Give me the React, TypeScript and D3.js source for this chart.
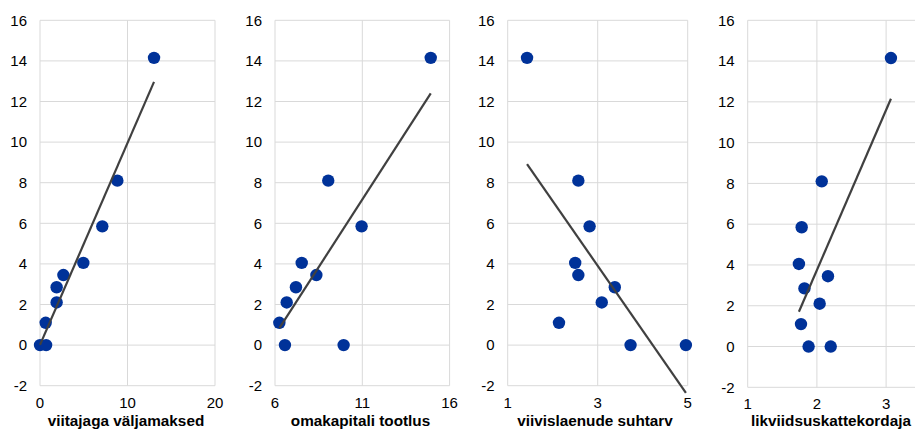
import React from "react";
import * as d3 from "d3";

// Dependent variable (shared by all four panels)
const yValues = [14.15, 8.1, 5.85, 4.05, 3.45, 2.85, 2.1, 1.1, 0, 0];

// Explanatory variables, one per panel
const xViitajaga = [13.03, 8.84, 7.12, 4.95, 2.67, 1.9, 1.9, 0.65, 0, 0.7];
const xOmakapital = [14.92, 9.05, 10.96, 7.53, 8.37, 7.2, 6.67, 6.25, 6.57, 9.93];
const xViivislaen = [1.43, 2.57, 2.82, 2.5, 2.57, 3.38, 3.09, 2.14, 3.73, 4.96];
const xLikviidsus = [3.07, 2.07, 1.78, 1.74, 2.16, 1.82, 2.04, 1.77, 1.88, 2.2];

const titles = [
  "viitajaga väljamaksed",
  "omakapitali tootlus",
  "viivislaenude suhtarv",
  "likviidsuskattekordaja",
];

const xDomains: [number, number][] = [
  [0, 20],
  [6, 16],
  [1, 5],
  [1, 4],
];
const xTickValues = [
  [0, 10, 20],
  [6, 11, 16],
  [1, 3, 5],
  [1, 2, 3],
];
const yTickValues = [-2, 0, 2, 4, 6, 8, 10, 12, 14, 16];
const yDomain: [number, number] = [-2, 16];

const xSeries = [xViitajaga, xOmakapital, xViivislaen, xLikviidsus];

// layout (pixels)
const panels = [
  { x0: 40, x1: 215, yBottom: 385.7, tickY: 408, titleX: 126 },
  { x0: 275, x1: 449.6, yBottom: 385.7, tickY: 408, titleX: 360.5 },
  { x0: 507.7, x1: 687.7, yBottom: 385.7, tickY: 408, titleX: 595 },
  { x0: 747.7, x1: 955.3, yBottom: 387.3, tickY: 408.5, titleX: 831 },
];
const yTop = 20.3;
const W = 915;
const H = 430;
const FONT = "Arial, 'Liberation Sans', Helvetica, sans-serif";
const GRID = "#d9d9d9";
const DOT = "#003299";
const LINE = "#404040";

function regression(xs: number[], ys: number[]) {
  const mx = d3.mean(xs) as number;
  const my = d3.mean(ys) as number;
  let sxy = 0;
  let sxx = 0;
  xs.forEach((x, i) => {
    sxy += (x - mx) * (ys[i] - my);
    sxx += (x - mx) * (x - mx);
  });
  const slope = sxy / sxx;
  const intercept = my - slope * mx;
  return (x: number) => intercept + slope * x;
}

function Panel({ idx }: { idx: number }) {
  const p = panels[idx];
  const xs = xSeries[idx];
  const x = d3.scaleLinear().domain(xDomains[idx]).range([p.x0, p.x1]);
  const y = d3.scaleLinear().domain(yDomain).range([p.yBottom, yTop]);
  const f = regression(xs, yValues);
  const [xmin, xmax] = d3.extent(xs) as [number, number];
  const line = d3
    .line<number>()
    .x((d) => x(d))
    .y((d) => y(f(d)));
  const gridRight = Math.min(p.x1, W);
  return (
    <g>
      {yTickValues.map((t) => (
        <line
          key={"h" + t}
          x1={p.x0}
          x2={gridRight}
          y1={y(t)}
          y2={y(t)}
          stroke={GRID}
          strokeWidth={1}
        />
      ))}
      {xTickValues[idx].map((t) => (
        <line
          key={"v" + t}
          x1={x(t)}
          x2={x(t)}
          y1={yTop}
          y2={p.yBottom}
          stroke={GRID}
          strokeWidth={1}
        />
      ))}
      {yTickValues.map((t) => (
        <text
          key={"yl" + t}
          x={p.x0 - 13}
          y={y(t)}
          dy="0.35em"
          textAnchor="end"
          fontSize={15}
          fontFamily={FONT}
          fill="#000"
        >
          {t}
        </text>
      ))}
      {xTickValues[idx].map((t) => (
        <text
          key={"xl" + t}
          x={x(t)}
          y={p.tickY}
          textAnchor="middle"
          fontSize={15}
          fontFamily={FONT}
          fill="#000"
        >
          {t}
        </text>
      ))}
      <text
        x={p.titleX}
        y={425.5}
        textAnchor="middle"
        fontSize={15.3}
        fontWeight="bold"
        fontFamily={FONT}
        fill="#000"
      >
        {titles[idx]}
      </text>
      {xs.map((v, i) => (
        <circle key={"c" + i} cx={x(v)} cy={y(yValues[i])} r={6.2} fill={DOT} />
      ))}
      <path d={line([xmin, xmax]) || ""} fill="none" stroke={LINE} strokeWidth={2.2} />
    </g>
  );
}

export default function App() {
  return (
    <svg
      width={W}
      height={H}
      style={{ position: "absolute", left: 0, top: 0, background: "#fff" }}
    >
      <rect width={W} height={H} fill="#fff" />
      {panels.map((_, i) => (
        <Panel key={i} idx={i} />
      ))}
    </svg>
  );
}
